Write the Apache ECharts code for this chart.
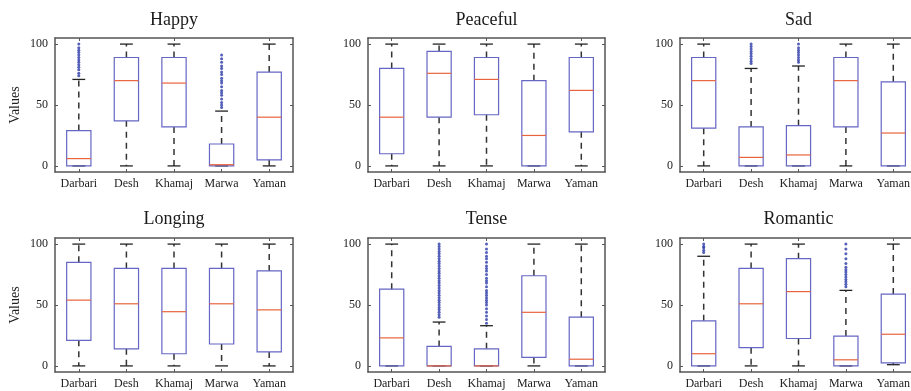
<!DOCTYPE html>
<html><head><meta charset="utf-8">
<script src="https://cdn.jsdelivr.net/npm/echarts@6/dist/echarts.min.js"></script>
<style>html,body{margin:0;padding:0;background:#fff}#c{width:911px;height:391px}</style>
</head><body><div id="c"></div>
<script>
// ---------- DATA ----------
const categories = ['Darbari', 'Desh', 'Khamaj', 'Marwa', 'Yaman'];
const moods = ['Happy', 'Peaceful', 'Sad', 'Longing', 'Tense', 'Romantic'];
const yTicks = [0, 50, 100];

// each entry: [lower whisker, Q1, median, Q3, upper whisker] per raga
const happyStats = [[0, 0, 6, 29, 71], [0, 37, 70, 89, 100], [0, 32, 68, 89, 100], [0, 0, 1, 18, 45], [0, 5, 40, 77, 100]];
const peacefulStats = [[0, 10, 40, 80, 100], [0, 40, 76, 94, 100], [0, 42, 71, 89, 100], [0, 0, 25, 70, 100], [0, 28, 62, 89, 100]];
const sadStats = [[0, 31, 70, 89, 100], [0, 0, 7, 32, 80], [0, 0, 9, 33, 82], [0, 32, 70, 89, 100], [0, 0, 27, 69, 100]];
const longingStats = [[0, 21, 54, 85, 100], [0, 14, 51, 80, 100], [0, 10, 44.5, 80, 100], [0, 18, 51, 80, 100], [0, 11.5, 46, 78, 100]];
const tenseStats = [[0, 0, 23, 63, 100], [0, 0, 0, 16, 36], [0, 0, 0, 14, 33], [0, 7, 44, 74, 100], [0, 0, 5.5, 40, 100]];
const romanticStats = [[0, 0, 10, 37, 90], [0, 15, 51, 80, 100], [0, 22.5, 61, 88, 100], [0, 0, 5, 24.5, 62], [1, 2.5, 26, 59, 100]];

// outliers: [raga index, value]
const happyOutliers = [
  [0, 74], [0, 76], [0, 79], [0, 81], [0, 83], [0, 85], [0, 87], [0, 89], [0, 91], [0, 93], [0, 95], [0, 97], [0, 100],
  [3, 48], [3, 50], [3, 52], [3, 55], [3, 58], [3, 60], [3, 62], [3, 65], [3, 68], [3, 70], [3, 72], [3, 75], [3, 77], [3, 80], [3, 82], [3, 85], [3, 88], [3, 91]
];
const peacefulOutliers = [];
const sadOutliers = [
  [1, 84], [1, 86], [1, 88], [1, 90], [1, 92], [1, 94], [1, 96], [1, 98], [1, 100],
  [2, 85], [2, 87], [2, 89], [2, 91], [2, 93], [2, 95], [2, 97], [2, 100]
];
const longingOutliers = [];
const tenseOutliers = [
  [1, 40], [1, 42], [1, 44], [1, 46], [1, 48], [1, 50], [1, 52], [1, 54], [1, 56], [1, 58], [1, 60], [1, 62], [1, 64], [1, 66], [1, 68], [1, 70], [1, 72], [1, 74], [1, 76], [1, 78], [1, 80], [1, 82], [1, 84], [1, 86], [1, 88], [1, 90], [1, 92], [1, 94], [1, 96], [1, 98], [1, 100],
  [2, 35], [2, 38], [2, 41], [2, 44], [2, 47], [2, 50], [2, 52], [2, 54], [2, 56], [2, 58], [2, 60], [2, 62], [2, 65], [2, 68], [2, 70], [2, 72], [2, 75], [2, 78], [2, 80], [2, 82], [2, 85], [2, 88], [2, 90], [2, 93], [2, 96], [2, 100]
];
const romanticOutliers = [
  [0, 93], [0, 95], [0, 97], [0, 98], [0, 100],
  [3, 65], [3, 67], [3, 69], [3, 71], [3, 73], [3, 75], [3, 77], [3, 79], [3, 81], [3, 84], [3, 88], [3, 92], [3, 96], [3, 100]
];

const allStats = [happyStats, peacefulStats, sadStats, longingStats, tenseStats, romanticStats];
const allOutliers = [happyOutliers, peacefulOutliers, sadOutliers, longingOutliers, tenseOutliers, romanticOutliers];

// ---------- LAYOUT ----------
const FONT = '"Liberation Serif", "DejaVu Serif", serif';
const colLeft = [55, 368, 680];
const colWidth = [238, 237, 237];
const rowTop = [38, 238];
const rowHeight = 134;
const AXIS_COLOR = '#555';
const BOX_COLOR = '#6666c4';
const MED_COLOR = '#e8643c';
const OUT_COLOR = '#2b3aa8';

const grids = [], xAxes = [], yAxes = [], series = [], titles = [];

moods.forEach((m, i) => {
  const r = Math.floor(i / 3), c = i % 3;
  const left = colLeft[c], top = rowTop[r], w = colWidth[c];
  grids.push({ left: left, top: top, width: w, height: rowHeight, show: false, outerBoundsMode: 'none', containLabel: false });
  titles.push({
    text: m, left: left + w / 2, top: r === 0 ? 11 : 210, textAlign: 'center', padding: 0,
    textStyle: { fontFamily: FONT, fontSize: 18, fontWeight: 'normal', color: '#1a1a1a' }
  });
  const xBase = {
    type: 'category', data: categories, gridIndex: i, boundaryGap: true,
    axisLine: { show: true, onZero: false, lineStyle: { color: AXIS_COLOR, width: 1.5 } },
    axisTick: { show: true, inside: true, alignWithLabel: true, length: 3, lineStyle: { color: AXIS_COLOR } },
    splitLine: { show: false }
  };
  xAxes.push(Object.assign({}, xBase, {
    position: 'bottom',
    axisLabel: { show: true, margin: 6, fontFamily: FONT, fontSize: 12, color: '#222', interval: 0, hideOverlap: false }
  }));
  xAxes.push(Object.assign({}, xBase, { position: 'top', axisLabel: { show: false } }));
  const yBase = {
    type: 'value', gridIndex: i, min: -5, max: 105,
    axisLine: { show: true, onZero: false, lineStyle: { color: AXIS_COLOR, width: 1.5 } },
    axisTick: { show: true, inside: true, length: 3, customValues: yTicks, lineStyle: { color: AXIS_COLOR } },
    splitLine: { show: false }
  };
  const yLeft = Object.assign({}, yBase, {
    position: 'left',
    axisLabel: { show: true, customValues: yTicks, margin: 7, fontFamily: FONT, fontSize: 12, color: '#222' }
  });
  if (c === 0) {
    Object.assign(yLeft, {
      name: 'Values', nameLocation: 'middle', nameGap: 33, nameRotate: 90,
      nameTextStyle: { fontFamily: FONT, fontSize: 14, color: '#222' }
    });
  }
  yAxes.push(yLeft);
  yAxes.push(Object.assign({}, yBase, { position: 'right', axisLabel: { show: false } }));

  series.push({
    type: 'custom', xAxisIndex: 2 * i, yAxisIndex: 2 * i,
    data: allStats[i].map((s, j) => [j].concat(s)),
    encode: { x: 0, y: [1, 2, 3, 4, 5] },
    clip: false,
    renderItem: function (params, api) {
      const x = api.value(0);
      const v = [1, 2, 3, 4, 5].map(k => api.value(k));
      const bw = api.size([1, 0])[0];
      const hb = bw * 0.255, hc = bw * 0.135;
      const p = v.map(val => api.coord([x, val]));
      const cx = p[0][0];
      const ch = [];
      const dash = { stroke: '#333', lineWidth: 1.5, lineDash: [6, 5] };
      if (v[4] > v[3]) ch.push({ type: 'line', shape: { x1: cx, y1: p[3][1], x2: cx, y2: p[4][1] }, style: dash });
      if (v[1] > v[0]) ch.push({ type: 'line', shape: { x1: cx, y1: p[1][1], x2: cx, y2: p[0][1] }, style: dash });
      ch.push({ type: 'line', shape: { x1: cx - hc, y1: p[4][1], x2: cx + hc, y2: p[4][1] }, style: { stroke: '#222', lineWidth: 1.3 } });
      ch.push({ type: 'line', shape: { x1: cx - hc, y1: p[0][1], x2: cx + hc, y2: p[0][1] }, style: { stroke: '#222', lineWidth: 1.3 } });
      ch.push({ type: 'rect', shape: { x: cx - hb, y: p[3][1], width: 2 * hb, height: p[1][1] - p[3][1] }, style: { fill: 'none', stroke: BOX_COLOR, lineWidth: 1.2 } });
      ch.push({ type: 'line', shape: { x1: cx - hb, y1: p[2][1], x2: cx + hb, y2: p[2][1] }, style: { stroke: MED_COLOR, lineWidth: 1.2 } });
      return { type: 'group', children: ch };
    }
  });
  series.push({
    type: 'scatter', xAxisIndex: 2 * i, yAxisIndex: 2 * i,
    data: allOutliers[i], symbol: 'circle', symbolSize: 3,
    itemStyle: { color: OUT_COLOR }, silent: true
  });
});

const chart = echarts.init(document.getElementById('c'), null, { renderer: 'canvas' });
chart.setOption({
  animation: false,
  backgroundColor: '#fff',
  title: titles,
  grid: grids,
  xAxis: xAxes,
  yAxis: yAxes,
  series: series
});
</script>
</body></html>
